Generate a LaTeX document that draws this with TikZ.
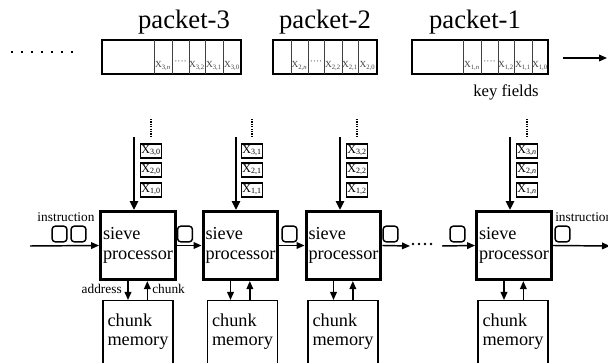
\documentclass[tikz,border=0pt]{standalone}
\usepackage{fontspec}
\setmainfont{Liberation Serif}
\usetikzlibrary{arrows.meta,calc}

% key field label: X with a two-part index
\newcommand{\kf}[2]{X\textsubscript{#1,#2}}

\begin{document}
\begin{tikzpicture}[x=0.75pt,y=-0.75pt,
  arr/.style={-{Triangle[length=6pt,width=5pt]}, line width=1.1pt},
  feed/.style={-{Triangle[length=6.5pt,width=6pt]}, line width=1.4pt},
  dotline/.style={line width=1.1pt, dash pattern=on 0.9pt off 0.9pt},
  sieve/.style={draw, line width=2.4pt, minimum width=56pt, minimum height=51pt,
    align=left, inner sep=0pt, font=\fontsize{13.7}{15}\selectfont},
  mem/.style={draw, line width=1.1pt, minimum width=52.5pt, minimum height=90pt, anchor=north},
  memtext/.style={anchor=north west, inner sep=0pt, align=left, font=\fontsize{13.7}{14.3}\selectfont},
  key/.style={draw, line width=1.1pt, minimum width=16pt, minimum height=10.5pt,
    inner sep=0.3pt, font=\fontsize{9}{10}\selectfont},
  instr/.style={draw, line width=1.1pt, rounded corners=2.5pt, minimum width=11.2pt,
    minimum height=11.8pt, inner sep=0pt},
  small/.style={font=\fontsize{10}{12}\selectfont, inner sep=0pt},
  title/.style={font=\fontsize{20}{24}\selectfont, anchor=base, inner sep=0pt},
  cell/.style={font=\fontsize{7}{8}\selectfont, text=black!75, anchor=base, inner sep=0pt},
  rec/.style={line width=0.9pt},
  div/.style={line width=0.6pt, draw=black!75},
]
\useasboundingbox (0,0) rectangle (608,363);
\clip (0,0) rectangle (608,363);

% ---------- packet stream ----------
\foreach \x in {12,22,...,72} \fill (\x-1.3,50.7) rectangle +(2.7,2.7);

\node[title] (t3) at (184,29) {packet-3};
\node[title] (t2) at (325,29) {packet-2};
\node[title] (t1) at (475,29) {packet-1};

% packet-3
\draw[rec] (102,40) rectangle (241,74);
\foreach \x in {154,172,189,205,223} \draw[div] (\x,40) -- (\x,74);
\node[cell] (p3a) at (163,68) {\kf{3}{\textit{n}}};
\node[cell] (p3b) at (180.5,65) {····};
\node[cell] (p3c) at (197,68) {\kf{3}{2}};
\node[cell] (p3d) at (214,68) {\kf{3}{1}};
\node[cell] (p3e) at (232,68) {\kf{3}{0}};

% packet-2
\draw[rec] (273,40) rectangle (377,74);
\foreach \x in {291,308,324,342,358} \draw[div] (\x,40) -- (\x,74);
\node[cell] (p2a) at (299.5,68) {\kf{2}{\textit{n}}};
\node[cell] (p2b) at (316,65) {····};
\node[cell] (p2c) at (333,68) {\kf{2}{2}};
\node[cell] (p2d) at (350,68) {\kf{2}{1}};
\node[cell] (p2e) at (367.5,68) {\kf{2}{0}};

% packet-1
\draw[rec] (412,40) rectangle (548,74);
\foreach \x in {463,481,498,514,532} \draw[div] (\x,40) -- (\x,74);
\node[cell] (p1a) at (472,68) {\kf{1}{\textit{n}}};
\node[cell] (p1b) at (489.5,65) {····};
\node[cell] (p1c) at (506,68) {\kf{1}{2}};
\node[cell] (p1d) at (523,68) {\kf{1}{1}};
\node[cell] (p1e) at (540,68) {\kf{1}{0}};

\node[anchor=base, inner sep=0pt, font=\fontsize{12.5}{14}\selectfont] (kfl) at (506,97) {key fields};

\coordinate (sa) at (563,58);
\coordinate (sb) at (607,58);
\draw[arr] (sa) -- (sb);

% ---------- sieve processors ----------
\node[sieve] (sp1) at (138,245.5) {sieve\\processor};
\node[sieve] (sp2) at (240.5,245.5) {sieve\\processor};
\node[sieve] (sp3) at (343.5,245.5) {sieve\\processor};
\node[sieve] (sp4) at (514,245.5) {sieve\\processor};

% chunk memories
\node[mem] (cm1) at (138,300) {};
\node[mem] (cm2) at (242.5,300) {};
\node[mem] (cm3) at (343,300) {};
\node[mem] (cm4) at (513,300) {};
\foreach \i in {1,2,3,4}
  \node[memtext] (cmt\i) at ($(cm\i.north west)+(5,13.5)$) {chunk\\memory};

% address / chunk links
\foreach \i in {1,2,3,4} {
  \draw[arr] ([xshift=-7.5pt]sp\i.south) -- ([xshift=-7.5pt]sp\i.south |- cm\i.north);
  \draw[arr] ([xshift=7pt]sp\i.south |- cm\i.north) -- ([xshift=7pt]sp\i.south);
}
\node[small, anchor=base east] (addr) at (122,294) {address};
\node[small, anchor=base west] (chk) at (152,294) {chunk};

% key field feeds
\coordinate (f1) at (134,137);
\coordinate (f2) at (236,137);
\coordinate (f3) at (340,137);
\coordinate (f4) at (510,137);
\foreach \i in {1,2,3,4} \draw[feed] (f\i) -- (f\i |- sp\i.north);

\node[key] (k13) at (151,151) {\kf{3}{0}};
\node[key] (k12) at (151,170) {\kf{2}{0}};
\node[key] (k11) at (151,190) {\kf{1}{0}};
\node[key] (k23) at (252,151) {\kf{3}{1}};
\node[key] (k22) at (252,170) {\kf{2}{1}};
\node[key] (k21) at (252,190) {\kf{1}{1}};
\node[key] (k33) at (357,151) {\kf{3}{2}};
\node[key] (k32) at (357,170) {\kf{2}{2}};
\node[key] (k31) at (357,190) {\kf{1}{2}};
\node[key] (k43) at (527,151) {\kf{3}{\textit{n}}};
\node[key] (k42) at (527,170) {\kf{2}{\textit{n}}};
\node[key] (k41) at (527,190) {\kf{1}{\textit{n}}};

\foreach \x [count=\i] in {151,252,357,527} {
  \coordinate (da\i) at (\x,119);
  \coordinate (db\i) at (\x,137);
  \draw[dotline] (da\i) -- (db\i);
}

% ---------- instruction pipeline ----------
\coordinate (inL) at (30,246);
\coordinate (gapA) at (410,246);
\coordinate (gapB) at (442,246);
\coordinate (outR) at (610,246);
\draw[arr] (inL) -- (sp1.west);
\draw[arr] (sp1.east) -- (sp2.west);
\draw[arr] (sp2.east) -- (sp3.west);
\draw[arr] (sp3.east) -- (gapA);
\draw[arr] (gapB) -- (sp4.west);
\draw[arr] (sp4.east) -- (outR);
\foreach \x in {413,419,425,431} \fill (\x,244) circle (1.1pt);

\node[instr] (i1) at (59.5,234) {};
\node[instr] (i2) at (78.5,234) {};
\node[instr] (i3) at (185,234) {};
\node[instr] (i4) at (289.5,234) {};
\node[instr] (i5) at (390.5,234) {};
\node[instr] (i6) at (457.5,234) {};
\node[instr] (i7) at (562.5,234) {};

\node[small, anchor=base] (il1) at (66,222) {instruction};
\node[small, anchor=base west] (il2) at (555,222) {instruction};
\end{tikzpicture}
\end{document}
